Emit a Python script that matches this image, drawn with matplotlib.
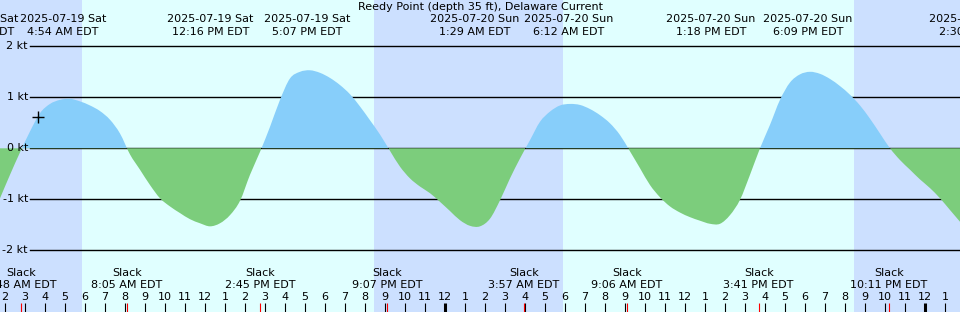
import numpy as np
import matplotlib.pyplot as plt
from matplotlib.path import Path
from matplotlib.patches import PathPatch, Rectangle
from matplotlib.transforms import blended_transform_factory

# time axis: hours since 2025-07-19 00:00 EDT
t_start, t_end = 1.75, 49.75

# current speed (kt), read every half hour from 1:45 AM Sat
sample_hours = np.arange(1.75, 49.76, 0.5)
speed_kt = [-0.98, -0.52, -0.08, 0.33, 0.69, 0.87, 0.95, 0.97, 0.92, 0.84,
            0.73, 0.56, 0.29, -0.12, -0.42, -0.72, -0.98, -1.14, -1.27, -1.39,
            -1.47, -1.53, -1.47, -1.31, -1.03, -0.52, -0.07, 0.42, 0.95, 1.37,
            1.50, 1.53, 1.48, 1.38, 1.24, 1.06, 0.82, 0.55, 0.27, -0.05,
            -0.36, -0.59, -0.75, -0.88, -1.05, -1.23, -1.41, -1.52, -1.53, -1.38,
            -1.02, -0.59, -0.20, 0.16, 0.52, 0.72, 0.84, 0.87, 0.85, 0.77,
            0.65, 0.49, 0.26, -0.06, -0.39, -0.72, -0.96, -1.14, -1.26, -1.35,
            -1.42, -1.48, -1.48, -1.31, -1.01, -0.52, 0.00, 0.46, 0.95, 1.29,
            1.45, 1.50, 1.46, 1.36, 1.22, 1.05, 0.84, 0.58, 0.29, 0.00,
            -0.23, -0.42, -0.61, -0.78, -0.98, -1.21, -1.44]

# slack water
slack_hours = [2.8, 8.083, 14.75, 21.117, 27.95, 33.1, 39.683, 46.183]
slack_labels = ["2:48 AM EDT", "8:05 AM EDT", "2:45 PM EDT", "9:07 PM EDT",
                "3:57 AM EDT", "9:06 AM EDT", "3:41 PM EDT", "10:11 PM EDT"]

# max flood / max ebb labels
peak_hours = [0.52, 4.9, 12.267, 17.117, 25.483, 30.2, 37.3, 42.15, 50.5]
peak_dates = ["2025-07-19 Sat", "2025-07-19 Sat", "2025-07-19 Sat", "2025-07-19 Sat",
              "2025-07-20 Sun", "2025-07-20 Sun", "2025-07-20 Sun", "2025-07-20 Sun",
              "2025-07-21 Mon"]
peak_times = ["12:31 AM EDT", "4:54 AM EDT", "12:16 PM EDT", "5:07 PM EDT",
              "1:29 AM EDT", "6:12 AM EDT", "1:18 PM EDT", "6:09 PM EDT",
              "2:30 AM EDT"]

# sunrise / sunset
sunrise = [5.85, 29.9]
sunset = [20.45, 44.45]

kt_levels = [2, 1, 0, -1, -2]
marker_hour, marker_kt = 3.65, 0.61

night = "#cce0ff"
day = "#e0ffff"
flood = "#87cefa"
ebb = "#7ccd7c"

W, H = 960, 312
fig = plt.figure(figsize=(W / 100, H / 100), dpi=100)
ax = fig.add_axes([0, 0, 1, 1])
ax.set_xlim(t_start, t_end)
ax.set_ylim((148.3 - H) / 51, 148.3 / 51)
ax.axis("off")
tr = blended_transform_factory(ax.transData, ax.transAxes)

def py(ypx):
    return 1 - ypx / H

# day / night
ax.axvspan(t_start - 5, t_end + 5, color=night, lw=0, zorder=0)
for a, b in zip(sunrise, sunset):
    ax.axvspan(a, b, color=day, lw=0, zorder=0)

# kt grid
for k in kt_levels:
    ax.axhline(k, xmin=30 / W, xmax=1, color="black", lw=1.0, zorder=1)
    ax.text(28 / W, k, f"{k} kt", transform=blended_transform_factory(ax.transAxes, ax.transData),
            ha="right", va="center", fontsize=8, zorder=3)

# smooth curve through the samples (bezier path), filled down to 0 kt
pts = np.column_stack([sample_hours, speed_kt])
ext = np.vstack([2 * pts[0] - pts[1], pts, 2 * pts[-1] - pts[-2]])
verts = [pts[0]]
codes = [Path.MOVETO]
for i in range(len(pts) - 1):
    p0, p1, p2, p3 = ext[i], ext[i + 1], ext[i + 2], ext[i + 3]
    verts += [p1 + (p2 - p0) / 6, p2 - (p3 - p1) / 6, p2]
    codes += [Path.CURVE4] * 3
verts += [(pts[-1, 0], 0), (pts[0, 0], 0), (pts[0, 0], 0)]
codes += [Path.LINETO, Path.LINETO, Path.CLOSEPOLY]
area = Path(verts, codes)

for col, y0 in [(flood, 0), (ebb, -10)]:
    patch = PathPatch(area, facecolor=col, lw=0, zorder=2)
    ax.add_patch(patch)
    patch.set_clip_path(Rectangle((t_start - 5, y0), 60, 10, transform=ax.transData))

ax.plot([marker_hour], [marker_kt], marker="+", color="black", ms=9, mew=1, zorder=4)

ax.text(0.5, py(7.5), "Reedy Point (depth 35 ft), Delaware Current", transform=ax.transAxes,
        ha="center", va="center", fontsize=8)

for h, d, s in zip(peak_hours, peak_dates, peak_times):
    ax.text(h, py(19), d, transform=tr, ha="center", va="center", fontsize=8, clip_on=False)
    ax.text(h, py(32), s, transform=tr, ha="center", va="center", fontsize=8, clip_on=False)

for h, s in zip(slack_hours, slack_labels):
    ax.text(h, py(273), "Slack", transform=tr, ha="center", va="center", fontsize=8)
    ax.text(h, py(285), s, transform=tr, ha="center", va="center", fontsize=8)

# hour ticks
for hr in range(2, 50):
    lab = (hr - 1) % 12 + 1
    ax.text(hr, py(297), str(lab), transform=tr, ha="center", va="center", fontsize=8)
    ax.plot([hr, hr], [py(303), py(312)], transform=tr, color="black",
            lw=2.2 if hr % 24 == 0 else 0.8, solid_capstyle="butt", zorder=3)
for h in slack_hours:
    ax.plot([h, h], [py(303), py(312)], transform=tr, color="red", lw=0.8,
            solid_capstyle="butt", zorder=3)

fig.savefig("out.png", dpi=100)
